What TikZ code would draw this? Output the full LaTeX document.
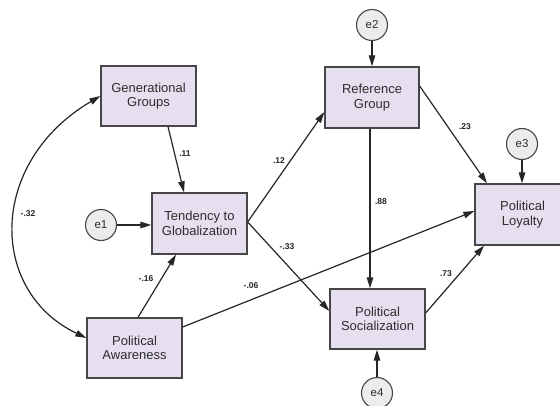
\documentclass[tikz,border=0pt]{standalone}
\usepackage{fontspec}
\setmainfont{Liberation Sans}
\usetikzlibrary{arrows.meta,calc}
\definecolor{boxfill}{RGB}{230,223,239}
\definecolor{boxline}{RGB}{70,70,70}
\definecolor{errfill}{RGB}{236,236,236}
\definecolor{txt}{RGB}{45,45,45}
\begin{document}
\begin{tikzpicture}[x=1pt,y=-1pt,
  varbox/.style={draw=boxline,line width=1.3pt,fill=boxfill,minimum width=95pt,minimum height=60pt,
    align=center,inner sep=0pt,text=txt,font=\fontsize{13}{14.5}\selectfont},
  errc/.style={draw=boxline,line width=1.1pt,fill=errfill,circle,minimum size=31pt,inner sep=0pt,
    text=txt,font=\fontsize{11.5}{13}\selectfont},
  path/.style={draw=black!85,line width=1.2pt,-{Triangle[length=11pt,width=6.5pt]}},
  coef/.style={font=\bfseries\fontsize{8.5}{10}\selectfont,text=black!85,inner sep=1pt}]
\useasboundingbox (0,0) rectangle (560,406);
\clip (0,0) rectangle (560,406);
\fill[white] (0,0) rectangle (560,406);
% variables
\node[varbox] (gen) at (148.5,96) {Generational\\Groups};
\node[varbox,minimum height=61pt] (tend) at (199.5,223.5) {Tendency to\\Globalization};
\node[varbox] (aware) at (134.5,348) {Political\\Awareness};
\node[varbox,minimum width=94pt,minimum height=61pt] (ref) at (372,97.5) {Reference\\Group};
\node[varbox,minimum height=61pt] (loy) at (522.5,214.5) {Political\\Loyalty};
\node[varbox] (soc) at (377.5,319) {Political\\Socialization};
% errors
\node[errc] (e1) at (101,225) {e1};
\node[errc] (e2) at (372,25) {e2};
\node[errc] (e3) at (522,144) {e3};
\node[errc] (e4) at (377,393) {e4};
% paths
\draw[path] ([xshift=19.5pt]gen.south) -- ([xshift=-15.5pt]tend.north);
\draw[path] (e1) -- (tend.west |- e1);
\draw[path] ([xshift=3.5pt]aware.north) -- ([xshift=-23.5pt]tend.south);
\draw[path] ([yshift=1.5pt]tend.east) -- ([yshift=-14.5pt]ref.west);
\draw[path] ([yshift=1.5pt]tend.east) -- ([yshift=8pt]soc.west);
\draw[path] ([yshift=21pt]aware.east) -- ([yshift=3.5pt]loy.west);
\draw[path] ([xshift=-2pt]ref.south) -- ([xshift=-7.5pt]soc.north);
\draw[path] ([yshift=11.5pt]ref.east) -- ([xshift=-35.5pt]loy.north);
\draw[path] (e2) -- (ref.north);
\draw[path] (e3) -- (e3 |- loy.north);
\draw[path] ([yshift=6pt]soc.east) -- ([xshift=-38.5pt]loy.south);
\draw[path] (e4) -- (e4 |- soc.south);
% covariance
\draw[draw=black!85,line width=1.2pt,{Triangle[length=11pt,width=6.5pt]}-{Triangle[length=11pt,width=6.5pt]}]
  (gen.west) .. controls (-12,162) and (-12,291) .. ([yshift=10pt]aware.west);
% coefficients
\node[coef] (c11) at (185,154) {.11};
\node[coef] (c12) at (279,161) {.12};
\node[coef] (c23) at (465,127) {.23};
\node[coef] (c88) at (381,202) {.88};
\node[coef] (c32) at (28,214) {-.32};
\node[coef] (c16) at (146,279) {-.16};
\node[coef] (c06) at (251,286) {-.06};
\node[coef] (c33) at (287,247) {-.33};
\node[coef] (c73) at (446,274) {.73};
\end{tikzpicture}
\end{document}
